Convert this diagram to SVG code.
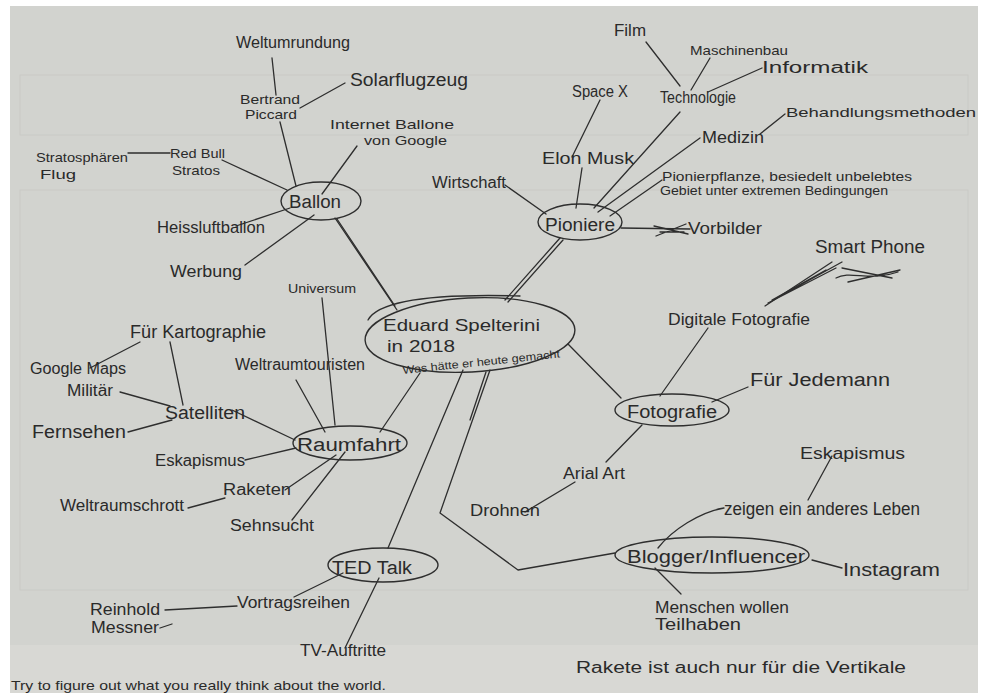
<svg xmlns="http://www.w3.org/2000/svg" width="986" height="693" viewBox="0 0 986 693">
<style>
text{font-family:"Liberation Sans","DejaVu Sans",sans-serif;fill:#2a2a2a;font-size:16px}
.s{font-size:13px}
.t{font-size:11px}
.n{font-size:18px}
.m{font-size:17px}
.c{stroke:#2e2e2e;stroke-width:1.3;fill:none;stroke-linecap:round;stroke-linejoin:round}
.e{stroke:#2e2e2e;stroke-width:1.4;fill:none}
.ruled{stroke:#c9cac6;stroke-width:1;fill:none}
</style>
<rect width="986" height="693" fill="#ffffff"/>
<rect x="10" y="6" width="968" height="687" fill="#d2d3cf"/>
<rect x="10" y="645" width="968" height="48" fill="#d8d8d4"/>
<g class="ruled">
<rect x="20" y="75" width="948" height="60"/>
<rect x="20" y="190" width="948" height="400"/>
</g>
<g id="connectors" class="c">
<path d="M335 218 L397 310"/>
<path d="M337 219 L395 306"/>
<path d="M296 186 L280 122"/>
<path d="M272 58 L276 95"/>
<path d="M300 108 L345 83"/>
<path d="M357 146 L322 194"/>
<path d="M222 160 L287 190"/>
<path d="M128 153 L170 153"/>
<path d="M236 226 L290 208"/>
<path d="M245 265 L314 215"/>
<path d="M560 238 L505 300"/>
<path d="M563 240 L508 302"/>
<path d="M505 185 L546 214"/>
<path d="M582 168 L576 208"/>
<path d="M600 100 L572 157"/>
<path d="M680 112 L594 208"/>
<path d="M646 42 L680 86"/>
<path d="M710 58 L691 90"/>
<path d="M762 68 L708 92"/>
<path d="M700 138 L598 212"/>
<path d="M760 134 L785 114"/>
<path d="M662 180 L610 216"/>
<path d="M621 228 L690 229"/>
<path d="M654 226 L688 234 M656 236 L686 224 M660 232 L684 232"/>
<path d="M568 344 L621 398"/>
<path d="M708 328 L660 396"/>
<path d="M765 306 L832 262"/>
<path d="M768 303 L836 268 M772 300 L826 270 M775 299 L842 262"/>
<path d="M836 278 C850 270 870 282 898 272 M842 268 L892 278 M848 282 L900 270"/>
<path d="M748 387 L712 402"/>
<path d="M642 425 L606 462"/>
<path d="M575 482 L525 512"/>
<path d="M490 370 L440 513 L518 570 L615 553"/>
<path d="M486 372 L470 420"/>
<path d="M724 508 C700 512 672 530 658 548"/>
<path d="M832 456 L808 500"/>
<path d="M812 560 L842 568"/>
<path d="M655 568 L681 594"/>
<path d="M420 373 L380 432"/>
<path d="M322 298 L335 425"/>
<path d="M296 380 L325 432"/>
<path d="M232 410 L295 440"/>
<path d="M170 342 L183 405"/>
<path d="M140 342 L90 368"/>
<path d="M120 392 L170 406"/>
<path d="M128 432 L172 420"/>
<path d="M245 460 L296 448"/>
<path d="M285 490 L336 455"/>
<path d="M188 508 L225 498"/>
<path d="M292 520 L345 452"/>
<path d="M463 370 L388 548"/>
<path d="M343 573 L294 597"/>
<path d="M165 610 L237 606"/>
<path d="M345 648 L379 578"/>
<path d="M160 628 L172 624"/>
</g>
<g id="center">
<ellipse class="e" cx="470" cy="335" rx="105" ry="37" transform="rotate(-3 470 335)"/>
<path class="c" d="M368 320 C380 298 450 294 520 296"/>
<text x="383" y="331" class="m" textLength="157" lengthAdjust="spacingAndGlyphs">Eduard Spelterini</text>
<text x="387" y="352" textLength="68" lengthAdjust="spacingAndGlyphs">in 2018</text>
<text x="403" y="374" class="t" transform="rotate(-6 403 374)" textLength="158" lengthAdjust="spacingAndGlyphs">Was hätte er heute gemacht</text>
</g>
<g id="ballon">
<ellipse class="e" cx="321" cy="201" rx="40" ry="19"/>
<text x="289" y="208" class="n" textLength="52" lengthAdjust="spacingAndGlyphs">Ballon</text>
</g>
<g id="weltumrundung"><text x="236" y="48" textLength="114" lengthAdjust="spacingAndGlyphs">Weltumrundung</text></g>
<g id="piccard"><text x="240" y="104" class="s" textLength="60" lengthAdjust="spacingAndGlyphs">Bertrand</text><text x="245" y="119" class="s" textLength="52" lengthAdjust="spacingAndGlyphs">Piccard</text></g>
<g id="solarflugzeug"><text x="350" y="86" class="n" textLength="118" lengthAdjust="spacingAndGlyphs">Solarflugzeug</text></g>
<g id="internetballone"><text x="330" y="129" class="s" textLength="124" lengthAdjust="spacingAndGlyphs">Internet Ballone</text><text x="364" y="145" class="s" textLength="83" lengthAdjust="spacingAndGlyphs">von Google</text></g>
<g id="redbull"><text x="170" y="158" class="s" textLength="55" lengthAdjust="spacingAndGlyphs">Red Bull</text><text x="172" y="175" class="s" textLength="48" lengthAdjust="spacingAndGlyphs">Stratos</text></g>
<g id="stratosphaeren"><text x="36" y="162" class="s" textLength="92" lengthAdjust="spacingAndGlyphs">Stratosphären</text><text x="40" y="179" class="s" textLength="36" lengthAdjust="spacingAndGlyphs">Flug</text></g>
<g id="heissluft"><text x="157" y="233" textLength="108" lengthAdjust="spacingAndGlyphs">Heissluftballon</text></g>
<g id="werbung"><text x="170" y="277" textLength="72" lengthAdjust="spacingAndGlyphs">Werbung</text></g>
<g id="pioniere">
<ellipse class="e" cx="580" cy="222" rx="42" ry="18"/>
<text x="545" y="231" class="n" textLength="70" lengthAdjust="spacingAndGlyphs">Pioniere</text>
</g>
<g id="wirtschaft"><text x="432" y="188" textLength="74" lengthAdjust="spacingAndGlyphs">Wirtschaft</text></g>
<g id="elonmusk"><text x="542" y="164" textLength="92" lengthAdjust="spacingAndGlyphs">Elon Musk</text></g>
<g id="spacex"><text x="572" y="97" textLength="56" lengthAdjust="spacingAndGlyphs">Space X</text></g>
<g id="technologie"><text x="660" y="103" textLength="76" lengthAdjust="spacingAndGlyphs">Technologie</text></g>
<g id="film"><text x="614" y="36" textLength="32" lengthAdjust="spacingAndGlyphs">Film</text></g>
<g id="maschinenbau"><text x="690" y="55" class="s" textLength="98" lengthAdjust="spacingAndGlyphs">Maschinenbau</text></g>
<g id="informatik"><text x="762" y="73" textLength="106" lengthAdjust="spacingAndGlyphs">Informatik</text></g>
<g id="medizin"><text x="702" y="143" textLength="62" lengthAdjust="spacingAndGlyphs">Medizin</text></g>
<g id="behandlung"><text x="786" y="117" class="s" textLength="190" lengthAdjust="spacingAndGlyphs">Behandlungsmethoden</text></g>
<g id="pionierpflanze"><text x="662" y="181" class="s" textLength="250" lengthAdjust="spacingAndGlyphs">Pionierpflanze, besiedelt unbelebtes</text><text x="660" y="195" class="s" textLength="228" lengthAdjust="spacingAndGlyphs">Gebiet unter extremen Bedingungen</text></g>
<g id="vorbilder"><text x="688" y="234" textLength="74" lengthAdjust="spacingAndGlyphs">Vorbilder</text></g>
<g id="fotografie">
<ellipse class="e" cx="672" cy="410" rx="57" ry="16"/>
<text x="627" y="418" class="n" textLength="90" lengthAdjust="spacingAndGlyphs">Fotografie</text>
</g>
<g id="digitale"><text x="668" y="325" textLength="142" lengthAdjust="spacingAndGlyphs">Digitale Fotografie</text></g>
<g id="smartphone"><text x="815" y="253" class="n" textLength="110" lengthAdjust="spacingAndGlyphs">Smart Phone</text></g>
<g id="jedemann"><text x="750" y="386" class="n" textLength="140" lengthAdjust="spacingAndGlyphs">Für Jedemann</text></g>
<g id="arialart"><text x="563" y="479" textLength="62" lengthAdjust="spacingAndGlyphs">Arial Art</text></g>
<g id="drohnen"><text x="470" y="516" textLength="70" lengthAdjust="spacingAndGlyphs">Drohnen</text></g>
<g id="blogger">
<ellipse class="e" cx="712" cy="555" rx="97" ry="18"/>
<text x="627" y="563" class="n" textLength="178" lengthAdjust="spacingAndGlyphs">Blogger/Influencer</text>
</g>
<g id="zeigen"><text x="724" y="515" class="n" textLength="196" lengthAdjust="spacingAndGlyphs">zeigen ein anderes Leben</text></g>
<g id="eskapismus2"><text x="800" y="459" textLength="105" lengthAdjust="spacingAndGlyphs">Eskapismus</text></g>
<g id="instagram"><text x="843" y="576" class="n" textLength="97" lengthAdjust="spacingAndGlyphs">Instagram</text></g>
<g id="menschen"><text x="655" y="613" textLength="134" lengthAdjust="spacingAndGlyphs">Menschen wollen</text><text x="655" y="630" textLength="86" lengthAdjust="spacingAndGlyphs">Teilhaben</text></g>
<g id="raumfahrt">
<ellipse class="e" cx="350" cy="443" rx="57" ry="17"/>
<text x="297" y="451" class="n" textLength="104" lengthAdjust="spacingAndGlyphs">Raumfahrt</text>
</g>
<g id="universum"><text x="288" y="293" class="s" textLength="68" lengthAdjust="spacingAndGlyphs">Universum</text></g>
<g id="weltraumtouristen"><text x="235" y="370" textLength="130" lengthAdjust="spacingAndGlyphs">Weltraumtouristen</text></g>
<g id="satelliten"><text x="165" y="419" class="n" textLength="80" lengthAdjust="spacingAndGlyphs">Satelliten</text></g>
<g id="kartographie"><text x="130" y="338" class="n" textLength="136" lengthAdjust="spacingAndGlyphs">Für Kartographie</text></g>
<g id="googlemaps"><text x="30" y="374" textLength="96" lengthAdjust="spacingAndGlyphs">Google Maps</text></g>
<g id="militaer"><text x="67" y="396" textLength="46" lengthAdjust="spacingAndGlyphs">Militär</text></g>
<g id="fernsehen"><text x="32" y="438" class="n" textLength="94" lengthAdjust="spacingAndGlyphs">Fernsehen</text></g>
<g id="eskapismus1"><text x="155" y="466" textLength="90" lengthAdjust="spacingAndGlyphs">Eskapismus</text></g>
<g id="raketen"><text x="223" y="495" textLength="68" lengthAdjust="spacingAndGlyphs">Raketen</text></g>
<g id="weltraumschrott"><text x="60" y="511" textLength="124" lengthAdjust="spacingAndGlyphs">Weltraumschrott</text></g>
<g id="sehnsucht"><text x="230" y="531" textLength="84" lengthAdjust="spacingAndGlyphs">Sehnsucht</text></g>
<g id="tedtalk">
<ellipse class="e" cx="383" cy="565" rx="55" ry="17"/>
<text x="332" y="574" class="n" textLength="80" lengthAdjust="spacingAndGlyphs">TED Talk</text>
</g>
<g id="vortragsreihen"><text x="237" y="608" textLength="113" lengthAdjust="spacingAndGlyphs">Vortragsreihen</text></g>
<g id="messner"><text x="90" y="615" textLength="70" lengthAdjust="spacingAndGlyphs">Reinhold</text><text x="91" y="633" textLength="68" lengthAdjust="spacingAndGlyphs">Messner</text></g>
<g id="tvauftritte"><text x="300" y="656" textLength="86" lengthAdjust="spacingAndGlyphs">TV-Auftritte</text></g>
<g id="notes">
<text x="11" y="690" class="s" textLength="375" lengthAdjust="spacingAndGlyphs">Try to figure out what you really think about the world.</text>
<text x="576" y="673" textLength="330" lengthAdjust="spacingAndGlyphs">Rakete ist auch nur für die Vertikale</text>
</g>
</svg>
